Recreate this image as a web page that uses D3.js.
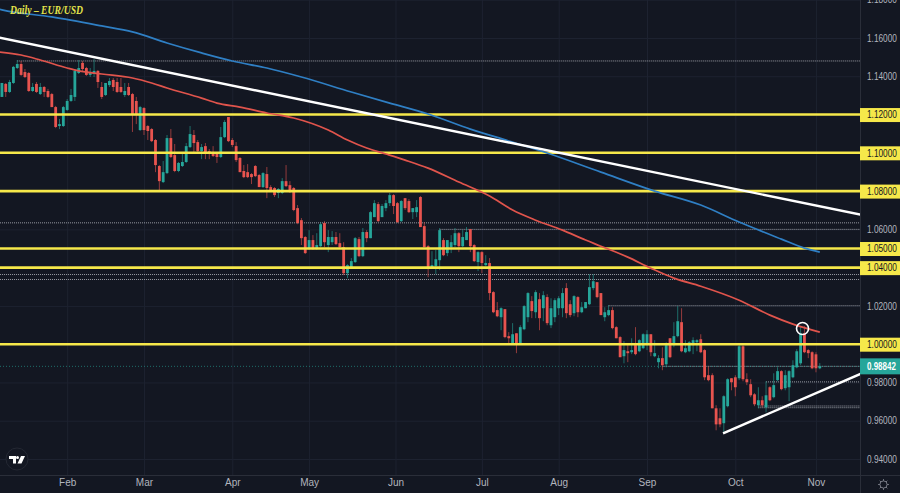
<!DOCTYPE html>
<html>
<head>
<meta charset="utf-8">
<style>
    html, body { margin: 0; padding: 0; background: #131722; overflow: hidden; }
    svg { display: block; }
    text { font-family: "Liberation Sans", sans-serif; }
</style>
</head>
<body>
<svg id="chart"></svg>
<script src="https://cdn.jsdelivr.net/npm/d3@7"></script>
<script>
// EUR/USD daily candles
const opens = [
    1.1292,1.1360,1.1318,1.1365,1.1443,1.1464,1.1422,1.1417,1.1323,1.1360,1.1307,1.1344,1.1323,1.1307,1.1239,1.1140,1.1140,1.1224,1.1271,1.1292,
    1.1417,1.1470,1.1443,1.1407,1.1412,1.1428,1.1344,1.1302,1.1354,1.1381,1.1370,1.1344,1.1302,1.1344,1.1307,1.1271,1.1119,1.1234,1.1140,1.1124,
    1.1067,1.0931,1.0847,1.0894,1.1077,1.0988,1.0905,1.0931,1.0952,1.1030,1.1093,1.1056,1.1009,1.1035,1.1009,1.1004,1.0999,1.0978,1.1082,1.1187,
    1.1067,1.1035,1.0973,1.0905,1.0899,1.0889,1.0931,1.0884,1.0821,1.0889,1.0821,1.0816,1.0790,1.0790,1.0852,1.0831,1.0816,1.0711,1.0648,1.0560,
    1.0497,1.0544,1.0502,1.0512,1.0633,1.0518,1.0533,1.0560,1.0528,1.0507,1.0371,1.0403,1.0429,1.0549,1.0460,1.0586,1.0554,1.0664,1.0732,1.0664,
    1.0711,1.0737,1.0779,1.0737,1.0643,1.0763,1.0748,1.0690,1.0690,1.0769,1.0617,1.0512,1.0403,1.0408,1.0439,1.0544,1.0476,1.0507,1.0518,1.0580,
    1.0512,1.0544,1.0601,1.0518,1.0429,1.0481,1.0413,1.0424,1.0272,1.0178,1.0141,1.0183,1.0042,1.0005,1.0057,1.0005,1.0078,1.0141,1.0225,1.0167,
    1.0235,1.0188,1.0246,1.0099,1.0141,1.0188,1.0188,1.0293,1.0209,1.0162,1.0246,1.0167,1.0188,1.0209,1.0293,1.0324,1.0267,1.0141,1.0152,1.0178,
    1.0089,1.0037,0.9937,0.9963,0.9958,0.9995,0.9963,0.9979,0.9995,1.0052,0.9937,0.9906,0.9927,0.9895,1.0031,0.9995,1.0042,1.0115,0.9958,0.9963,
    0.9995,1.0010,1.0026,0.9969,0.9838,0.9838,0.9665,0.9613,0.9587,0.9676,0.9822,0.9827,0.9822,0.9989,0.9817,0.9791,0.9738,0.9681,0.9707,0.9670,
    0.9775,0.9723,0.9812,0.9859,0.9770,0.9775,0.9827,0.9879,0.9900,1.0057,0.9969,0.9958,0.9947,0.9874
];
const highs = [
    1.1365,1.1365,1.1381,1.1454,1.1485,1.1480,1.1438,1.1422,1.1365,1.1370,1.1365,1.1349,1.1334,1.1313,1.1245,1.1177,1.1245,1.1281,1.1334,1.1438,
    1.1485,1.1480,1.1449,1.1443,1.1490,1.1433,1.1370,1.1365,1.1391,1.1391,1.1391,1.1391,1.1365,1.1365,1.1313,1.1292,1.1245,1.1239,1.1145,1.1129,
    1.1072,1.0936,1.0957,1.1093,1.1124,1.1046,1.0952,1.0994,1.1051,1.1140,1.1119,1.1067,1.1046,1.1051,1.1020,1.1035,1.1004,1.1135,1.1171,1.1187,
    1.1077,1.1056,1.0978,1.0936,1.0941,1.0894,1.0936,1.0889,1.0899,1.0926,1.0831,1.0821,1.0816,1.0868,1.0936,1.0852,1.0821,1.0727,1.0659,1.0565,
    1.0596,1.0570,1.0580,1.0638,1.0643,1.0596,1.0591,1.0586,1.0580,1.0533,1.0418,1.0450,1.0560,1.0560,1.0607,1.0596,1.0695,1.0753,1.0743,1.0732,
    1.0753,1.0790,1.0784,1.0743,1.0753,1.0763,1.0758,1.0711,1.0753,1.0774,1.0638,1.0518,1.0486,1.0492,1.0607,1.0554,1.0544,1.0570,1.0607,1.0586,
    1.0596,1.0612,1.0601,1.0523,1.0486,1.0486,1.0465,1.0450,1.0277,1.0220,1.0193,1.0183,1.0063,1.0110,1.0057,1.0099,1.0204,1.0272,1.0251,1.0282,
    1.0267,1.0277,1.0261,1.0240,1.0240,1.0251,1.0293,1.0319,1.0230,1.0256,1.0251,1.0220,1.0220,1.0366,1.0366,1.0324,1.0267,1.0193,1.0204,1.0193,
    1.0094,1.0042,1.0016,0.9995,1.0031,1.0089,1.0026,1.0057,1.0073,1.0052,1.0021,0.9942,0.9984,1.0010,1.0031,1.0115,1.0199,1.0188,1.0021,1.0016,
    1.0036,1.0026,1.0052,0.9974,0.9885,0.9848,0.9681,0.9665,0.9733,0.9822,0.9822,0.9838,0.9995,0.9995,0.9848,0.9817,0.9744,0.9775,0.9728,0.9806,
    0.9780,0.9848,0.9879,0.9864,0.9864,0.9864,0.9916,0.9974,1.0094,1.0094,0.9974,0.9963,0.9958,0.9901
];
const lows = [
    1.1292,1.1292,1.1313,1.1360,1.1438,1.1402,1.1391,1.1318,1.1318,1.1313,1.1302,1.1292,1.1286,1.1239,1.1129,1.1124,1.1135,1.1219,1.1266,1.1271,
    1.1412,1.1428,1.1402,1.1396,1.1396,1.1339,1.1281,1.1297,1.1344,1.1323,1.1313,1.1313,1.1292,1.1297,1.1109,1.1150,1.1114,1.1093,1.1067,1.1056,
    1.0899,1.0805,1.0842,1.0889,1.0973,1.0899,1.0899,1.0926,1.0947,1.1025,1.1004,1.1004,1.0967,1.0967,1.0967,1.0978,1.0947,1.0973,1.1077,1.1056,
    1.1030,1.0952,1.0899,1.0868,1.0868,1.0837,1.0873,1.0821,1.0816,1.0763,1.0795,1.0769,1.0763,1.0784,1.0821,1.0790,1.0695,1.0627,1.0518,1.0471,
    1.0492,1.0492,1.0492,1.0507,1.0507,1.0481,1.0518,1.0518,1.0502,1.0361,1.0345,1.0397,1.0424,1.0455,1.0455,1.0533,1.0554,1.0664,1.0638,1.0664,
    1.0695,1.0722,1.0680,1.0633,1.0638,1.0701,1.0685,1.0654,1.0664,1.0612,1.0507,1.0350,1.0397,1.0366,1.0387,1.0460,1.0460,1.0476,1.0507,1.0481,
    1.0507,1.0544,1.0481,1.0429,1.0382,1.0371,1.0408,1.0230,1.0162,1.0141,1.0073,1.0031,1.0005,1.0000,0.9953,1.0000,1.0073,1.0115,1.0136,1.0136,
    1.0073,1.0120,1.0099,1.0084,1.0115,1.0152,1.0141,1.0136,1.0141,1.0146,1.0141,1.0162,1.0188,1.0204,1.0282,1.0240,1.0152,1.0120,1.0146,1.0078,
    1.0031,0.9932,0.9900,0.9906,0.9948,0.9942,0.9958,0.9974,0.9969,0.9937,0.9932,0.9874,0.9864,0.9879,0.9927,0.9984,1.0036,0.9958,0.9953,0.9958,
    0.9948,0.9963,0.9953,0.9812,0.9806,0.9665,0.9550,0.9566,0.9540,0.9670,0.9759,0.9728,0.9812,0.9806,0.9786,0.9723,0.9676,0.9665,0.9670,0.9644,
    0.9702,0.9717,0.9806,0.9759,0.9759,0.9702,0.9822,0.9874,0.9890,0.9953,0.9927,0.9869,0.9853,0.9869
];
const closes = [
    1.1365,1.1318,1.1370,1.1449,1.1464,1.1407,1.1396,1.1323,1.1344,1.1318,1.1344,1.1318,1.1292,1.1239,1.1135,1.1150,1.1239,1.1271,1.1302,1.1428,
    1.1443,1.1438,1.1407,1.1422,1.1428,1.1370,1.1292,1.1365,1.1375,1.1344,1.1318,1.1318,1.1323,1.1302,1.1198,1.1198,1.1239,1.1119,1.1114,1.1061,
    1.0936,1.0852,1.0899,1.1077,1.0978,1.0905,1.0947,1.0952,1.1035,1.1098,1.1051,1.1009,1.1030,1.1004,1.0999,1.0983,1.0978,1.1082,1.1161,1.1061,
    1.1041,1.0962,1.0899,1.0873,1.0873,1.0873,1.0878,1.0821,1.0894,1.0816,1.0805,1.0779,1.0811,1.0852,1.0826,1.0795,1.0701,1.0633,1.0554,1.0476,
    1.0544,1.0497,1.0518,1.0627,1.0533,1.0560,1.0560,1.0523,1.0507,1.0371,1.0413,1.0434,1.0554,1.0460,1.0586,1.0554,1.0690,1.0737,1.0643,1.0722,
    1.0737,1.0779,1.0722,1.0638,1.0748,1.0711,1.0690,1.0711,1.0716,1.0612,1.0507,1.0403,1.0413,1.0444,1.0596,1.0465,1.0544,1.0533,1.0580,1.0512,
    1.0560,1.0586,1.0512,1.0434,1.0481,1.0424,1.0424,1.0267,1.0167,1.0146,1.0188,1.0037,1.0031,1.0052,1.0005,1.0089,1.0199,1.0267,1.0173,1.0272,
    1.0136,1.0256,1.0110,1.0188,1.0230,1.0240,1.0267,1.0162,1.0152,1.0251,1.0167,1.0193,1.0220,1.0298,1.0329,1.0246,1.0152,1.0167,1.0178,1.0084,
    1.0031,0.9932,0.9969,0.9953,0.9969,0.9948,1.0021,1.0052,1.0052,0.9958,0.9953,0.9927,0.9890,0.9995,0.9932,1.0042,1.0120,0.9963,0.9979,1.0010,
    1.0021,1.0021,0.9958,0.9827,0.9812,0.9665,0.9581,0.9581,0.9728,0.9817,0.9801,0.9775,0.9989,0.9817,0.9801,0.9733,0.9686,0.9707,0.9681,0.9733,
    0.9707,0.9786,0.9859,0.9765,0.9838,0.9859,0.9890,0.9963,1.0057,0.9958,0.9953,0.9874,0.9874,0.98842
];

// moving averages, [candle index, price] knots
const ma200 = [[-1,1.1752],[0,1.1747],[13,1.1710],[26,1.1663],[34,1.1632],[43,1.1574],[52,1.1522],[60,1.1480],[69,1.1443],[78,1.1396],[91,1.1318],[101,1.1260],[111,1.1203],[122,1.1124],[132,1.1062],[142,1.0999],[156,1.0899],[170,1.0800],[182,1.0727],[192,1.0638],[203,1.0549],[209,1.0502],[213,1.0481]];
const ma100 = [[-1,1.1527],[5,1.1511],[10,1.1485],[17,1.1443],[20,1.1428],[26,1.1412],[34,1.1391],[39,1.1365],[43,1.1339],[52,1.1286],[56,1.1260],[62,1.1239],[69,1.1208],[76,1.1182],[85,1.1119],[90,1.1067],[95,1.1025],[100,1.0994],[105,1.0962],[111,1.0920],[119,1.0847],[127,1.0774],[133,1.0701],[139,1.0648],[146,1.0596],[152,1.0544],[156,1.0512],[163,1.0455],[169,1.0397],[175,1.0345],[182,1.0303],[192,1.0230],[200,1.0152],[206,1.0105],[213,1.0063]];

// drawn levels and trendlines
const keyLevels = [1.12, 1.10, 1.08, 1.05, 1.04, 1.00];
const dottedLevels = [[4,1.1480],[-1,1.0634],[114,1.0600],[-1,1.0364],[-1,1.0338],[158,1.0201],[199,0.9803],[197,0.9677],[197,0.9668],[172,0.98842]];
const trendDown = [[-1,1.1603],[224,1.0675]];
const trendUp = [[187.8,0.9534],[224,0.9848]];
const marker = [208.5, 1.0082];

const priceTicks = [1.18,1.16,1.14,1.12,1.10,1.08,1.06,1.05,1.04,1.02,1.00,0.98,0.96,0.94];
const monthIndex = [17,37,60,80,102.5,125,145,168,191,212];
const monthLabels = ['Feb','Mar','Apr','May','Jun','Jul','Aug','Sep','Oct','Nov'];
const lastPrice = 0.98842;

const width = 900, height = 493;
const pane = {width: 860, height: 475};

const svg = d3.select('#chart')
    .attr('width', width)
    .attr('height', height);

const x = d3.scaleLinear().domain([0, 213]).range([1.9, 819.8]);
const y = d3.scaleLinear().domain([1.16, 0.94]).range([38, 459]);

svg.append('rect')
    .attr('width', width)
    .attr('height', height)
    .attr('fill', '#131722');

svg.append('defs').append('clipPath')
    .attr('id', 'pane')
    .append('rect')
    .attr('width', pane.width)
    .attr('height', pane.height);

// grid
svg.append('g')
    .attr('class', 'grid-y')
    .call(d3.axisRight(y).tickValues(priceTicks.filter(d => d !== 1.05)).tickSize(pane.width).tickFormat(''))
    .call(g => g.select('.domain').remove())
    .call(g => g.selectAll('line').attr('stroke', '#1d2230'));

svg.append('g')
    .attr('class', 'grid-x')
    .call(d3.axisBottom(x).tickValues(monthIndex).tickSize(pane.height).tickFormat(''))
    .call(g => g.select('.domain').remove())
    .call(g => g.selectAll('line').attr('stroke', '#1d2230'));

const plot = svg.append('g').attr('clip-path', 'url(#pane)');

// dotted levels
plot.append('g').selectAll('line')
    .data(dottedLevels)
    .join('line')
    .attr('x1', d => x(d[0]))
    .attr('x2', pane.width)
    .attr('y1', d => y(d[1]))
    .attr('y2', d => y(d[1]))
    .attr('stroke', '#c8cbd2')
    .attr('stroke-opacity', 0.75)
    .attr('stroke-width', 1)
    .attr('stroke-dasharray', '1 1');

// price line
plot.append('line')
    .attr('x1', 0)
    .attr('x2', pane.width)
    .attr('y1', y(lastPrice))
    .attr('y2', y(lastPrice))
    .attr('stroke', '#26a69a')
    .attr('stroke-opacity', 0.6)
    .attr('stroke-width', 1)
    .attr('stroke-dasharray', '1 2');

// candles
const candleData = d3.range(opens.length);
const up = i => closes[i] >= opens[i];
const color = i => up(i) ? '#26a69a' : '#e8544f';

plot.append('g').selectAll('line')
    .data(candleData)
    .join('line')
    .attr('x1', i => x(i))
    .attr('x2', i => x(i))
    .attr('y1', i => y(highs[i]))
    .attr('y2', i => y(lows[i]))
    .attr('stroke', color)
    .attr('stroke-opacity', 0.6)
    .attr('stroke-width', 1);

plot.append('g').selectAll('rect')
    .data(candleData)
    .join('rect')
    .attr('x', i => x(i) - 1.4)
    .attr('width', 2.8)
    .attr('y', i => y(Math.max(opens[i], closes[i])))
    .attr('height', i => Math.max(1, Math.abs(y(opens[i]) - y(closes[i]))))
    .attr('fill', color);

// yellow levels
plot.append('g').selectAll('line')
    .data(keyLevels)
    .join('line')
    .attr('x1', 0)
    .attr('x2', pane.width)
    .attr('y1', d => y(d))
    .attr('y2', d => y(d))
    .attr('stroke', '#f6e84a')
    .attr('stroke-width', 2.6);

const line = d3.line().x(d => x(d[0])).y(d => y(d[1])).curve(d3.curveMonotoneX);

plot.append('path')
    .datum(ma200)
    .attr('d', line)
    .attr('fill', 'none')
    .attr('stroke', '#2f7fc4')
    .attr('stroke-width', 1.7);

plot.append('path')
    .datum(ma100)
    .attr('d', line)
    .attr('fill', 'none')
    .attr('stroke', '#e0544c')
    .attr('stroke-width', 1.7);

[trendDown, trendUp].forEach(t => {
    plot.append('path')
        .datum(t)
        .attr('d', d3.line().x(d => x(d[0])).y(d => y(d[1])))
        .attr('fill', 'none')
        .attr('stroke', '#ffffff')
        .attr('stroke-width', 2.4);
});

plot.append('circle')
    .attr('cx', x(marker[0]))
    .attr('cy', y(marker[1]))
    .attr('r', 6)
    .attr('fill', 'none')
    .attr('stroke', '#ffffff')
    .attr('stroke-width', 1.6);

plot.append('text')
    .attr('x', 10)
    .attr('y', 14)
    .attr('fill', '#e3e44a')
    .attr('textLength', 73)
    .attr('lengthAdjust', 'spacingAndGlyphs')
    .style('font-family', '"Liberation Serif", serif')
    .style('font-style', 'italic')
    .style('font-weight', 'bold')
    .style('font-size', '11.5px')
    .text('Daily \u2013 EUR/USD');

// axes
svg.append('line')
    .attr('x1', pane.width + 0.5)
    .attr('x2', pane.width + 0.5)
    .attr('y1', 0)
    .attr('y2', height)
    .attr('stroke', '#2a2e39');

svg.append('line')
    .attr('x1', 0)
    .attr('x2', width)
    .attr('y1', pane.height + 0.5)
    .attr('y2', pane.height + 0.5)
    .attr('stroke', '#2a2e39');

const yAxis = svg.append('g')
    .attr('transform', `translate(${pane.width},0)`)
    .call(d3.axisRight(y).tickValues(priceTicks).tickSize(0).tickPadding(0).tickFormat(d3.format('.5f')))
    .call(g => g.select('.domain').remove());

// the reference labels are narrow, squeeze them sideways
yAxis.selectAll('.tick text')
    .attr('fill', '#b2b5be')
    .attr('transform', 'translate(7,0) scale(0.83,1)')
    .style('font-size', '10px');

yAxis.selectAll('.tick')
    .filter(d => keyLevels.includes(d))
    .call(t => t.insert('rect', 'text')
        .attr('x', 0)
        .attr('y', -7)
        .attr('width', 40)
        .attr('height', 14)
        .attr('fill', '#f6e84a'))
    .select('text')
    .attr('fill', '#131722');

const lastTag = svg.append('g')
    .attr('transform', `translate(${pane.width},${y(lastPrice)})`);

lastTag.append('rect')
    .attr('y', -8)
    .attr('width', 40)
    .attr('height', 16)
    .attr('fill', '#26a69a');

lastTag.append('text')
    .attr('dy', '0.32em')
    .attr('fill', '#ffffff')
    .attr('transform', 'translate(7,0) scale(0.8,1)')
    .style('font-size', '10px')
    .style('font-weight', 'bold')
    .text(d3.format('.5f')(lastPrice));

const xAxis = svg.append('g')
    .attr('transform', `translate(0,${pane.height})`)
    .call(d3.axisBottom(x).tickValues(monthIndex).tickSize(0).tickPadding(4).tickFormat((d, i) => monthLabels[i]))
    .call(g => g.select('.domain').remove());

xAxis.selectAll('.tick text')
    .attr('fill', '#b2b5be')
    .style('font-size', '10px');

// tradingview badge
const logo = svg.append('g').attr('transform', 'translate(17,459)');

logo.append('circle')
    .attr('r', 11)
    .attr('fill', '#131722')
    .attr('stroke', '#242833');

logo.append('path')
    .attr('d', 'M-8,-3H-1V4.5H-4V0H-8Z M0.5,-3A1.5,1.5 0 1,1 0.5,0A1.5,1.5 0 1,1 0.5,-3Z M4,-3H8L4.5,4.5H0.5Z')
    .attr('fill', '#ffffff');

// settings gear
const gear = svg.append('g').attr('transform', 'translate(883.5,484.5)');

gear.append('circle')
    .attr('r', 3.6)
    .attr('fill', 'none')
    .attr('stroke', '#787b86');

gear.selectAll('line')
    .data(d3.range(8))
    .join('line')
    .attr('x1', d => 3.6 * Math.cos(d * Math.PI / 4))
    .attr('y1', d => 3.6 * Math.sin(d * Math.PI / 4))
    .attr('x2', d => 5.4 * Math.cos(d * Math.PI / 4))
    .attr('y2', d => 5.4 * Math.sin(d * Math.PI / 4))
    .attr('stroke', '#787b86');
</script>
</body>
</html>
